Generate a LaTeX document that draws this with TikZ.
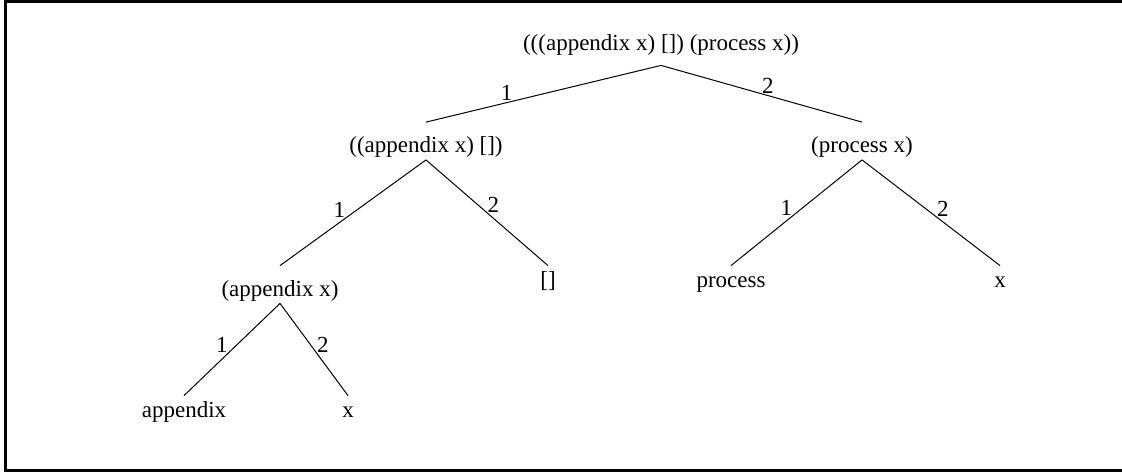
\documentclass[tikz,border=0pt]{standalone}
\usepackage{fontspec}
\setmainfont{Liberation Serif}
\usetikzlibrary{positioning}
\tikzset{
  term/.style={anchor=base,inner sep=0pt,text height=15pt,text depth=3.5pt},
  leaf/.style={term,text height=10.5pt},
  edge/.style={line width=0.5pt},
  argl/.style={anchor=south east,inner sep=0pt},
  argr/.style={anchor=south west,inner sep=0pt},
  every node/.style={font=\fontsize{11.5}{14}\selectfont}
}

\begin{document}
\begin{tikzpicture}[x=0.5pt,y=-0.5pt]
  \useasboundingbox (0,0) rectangle (1122,473);
  \draw[line width=1.5pt] (1122,1) -- (5,1) -- (5,470.5) -- (1122,470.5);
  % terms
  \node[term,text depth=7.5pt] (root) at (661,50) {(((appendix x) []) (process x))};
  \node[term] (lc) at (426,152.5) {((appendix x) [])};
  \node[term] (rc) at (862,152.5) {(process x)};
  \node[term] (ax) at (280,296) {(appendix x)};
  \node[leaf] (nil) at (548,287) {[]};
  \node[leaf] (proc) at (731,287) {process};
  \node[leaf] (px) at (1000,287) {x};
  \node[leaf] (app) at (184,417) {appendix};
  \node[leaf] (ax2) at (348,417) {x};
  % argument edges
  \draw[edge] (root.south) -- node[argl,pos=0.63] {1} (lc.north);
  \draw[edge] (root.south) -- node[argr,pos=0.5] {2} (rc.north);
  \draw[edge] (lc.south) -- node[argl,pos=0.55] {1} (ax.north);
  \draw[edge] (lc.south) -- node[argr,pos=0.5] {2} (nil.north);
  \draw[edge] (rc.south) -- node[argl,pos=0.53] {1} (proc.north);
  \draw[edge] (rc.south) -- node[argr,pos=0.54] {2} (px.north);
  \draw[edge] (ax.south) -- node[argl,pos=0.54] {1} (app.north);
  \draw[edge] (ax.south) -- node[argr,pos=0.54] {2} (ax2.north);
\end{tikzpicture}
\end{document}
